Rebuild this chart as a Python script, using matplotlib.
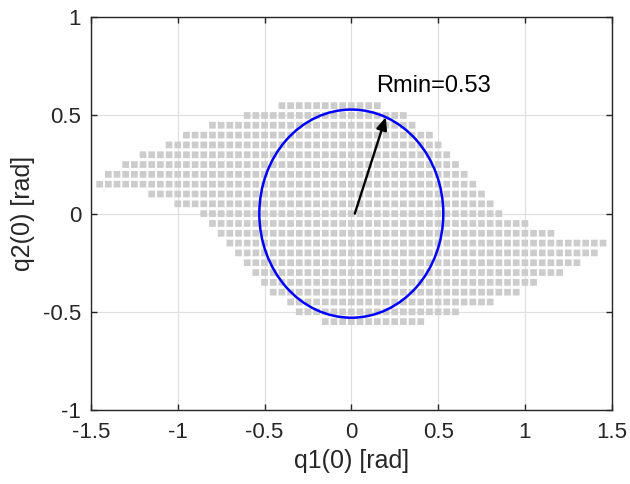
import numpy as np
import matplotlib.pyplot as plt
from matplotlib.patches import Circle, Rectangle
from matplotlib.collections import PatchCollection

plt.rcParams['font.family'] = ['Liberation Sans', 'DejaVu Sans']
plt.rcParams['axes.unicode_minus'] = False

# feasible initial conditions, one row of grid cells per q2(0) value
step = 0.05
row_q2 = [0.55, 0.5, 0.45, 0.4, 0.35, 0.3, 0.25, 0.2, 0.15, 0.1, 0.05, 0.0,
          -0.05, -0.1, -0.15, -0.2, -0.25, -0.3, -0.35, -0.4, -0.45, -0.5, -0.55]
row_q1_min = [-0.4, -0.6, -0.8, -0.95, -1.05, -1.2, -1.3, -1.4, -1.45, -1.15, -1.0, -0.85,
              -0.8, -0.75, -0.7, -0.65, -0.6, -0.55, -0.5, -0.45, -0.35, -0.3, -0.15]
row_q1_max = [0.15, 0.3, 0.35, 0.45, 0.5, 0.55, 0.6, 0.65, 0.7, 0.75, 0.8, 0.85,
              1.0, 1.15, 1.45, 1.4, 1.3, 1.2, 1.05, 0.95, 0.8, 0.6, 0.4]

rmin = 0.53
arrow_angle = 68.0  # deg

xticks = [-1.5, -1, -0.5, 0, 0.5, 1, 1.5]
xticklabels = ['-1.5', '-1', '-0.5', '0', '0.5', '1', '1.5']
yticks = [-1, -0.5, 0, 0.5, 1]
yticklabels = ['-1', '-0.5', '0', '0.5', '1']

q1_pts, q2_pts = [], []
for q2, lo, hi in zip(row_q2, row_q1_min, row_q1_max):
    n = int(round((hi - lo) / step)) + 1
    for k in range(n):
        q1_pts.append(lo + k * step)
        q2_pts.append(q2)

fig = plt.figure(figsize=(6.3, 4.84), dpi=100)
ax = fig.add_axes([0.1444, 0.1529, 0.8265, 0.8114])

# cell squares (~6.7 px side on screen)
w, h = 0.0386, 0.0341
cells = [Rectangle((x - w / 2, y - h / 2), w, h) for x, y in zip(q1_pts, q2_pts)]
ax.add_collection(PatchCollection(cells, facecolor='#cccccc', edgecolor='none',
                                  antialiased=True, snap=False, zorder=2))

ax.add_patch(Circle((0, 0), rmin, fill=False, ec='#0000ff', lw=1.8, zorder=3))

tip = (rmin * np.cos(np.radians(arrow_angle)), rmin * np.sin(np.radians(arrow_angle)))
ax.annotate('', xy=tip, xytext=(0.02, 0.0),
            arrowprops=dict(arrowstyle='-|>,head_length=0.75,head_width=0.32',
                            color='k', lw=1.7, shrinkA=0, shrinkB=0), zorder=4)
ax.text(0.142, 0.62, 'Rmin=%.2f' % rmin, fontsize=17, ha='left', va='baseline')

ax.set_xlim(-1.5, 1.5)
ax.set_ylim(-1, 1)
ax.set_xticks(xticks)
ax.set_xticklabels(xticklabels)
ax.set_yticks(yticks)
ax.set_yticklabels(yticklabels)
ax.set_axisbelow(True)
ax.grid(True, color='#e0e0e0', lw=0.9)
for s in ax.spines.values():
    s.set_color('#262626')
    s.set_linewidth(1.0)
ax.tick_params(direction='in', length=4, width=1.0, color='#262626',
               top=True, right=True, labelsize=16, labelcolor='#262626')
ax.tick_params(axis='x', pad=9)
ax.tick_params(axis='y', pad=7)

ax.set_xlabel('q1(0) [rad]', fontsize=18, color='#262626', labelpad=4)
ax.set_ylabel('q2(0) [rad]', fontsize=18, color='#262626', labelpad=6)

fig.savefig('out.png', dpi=100)
